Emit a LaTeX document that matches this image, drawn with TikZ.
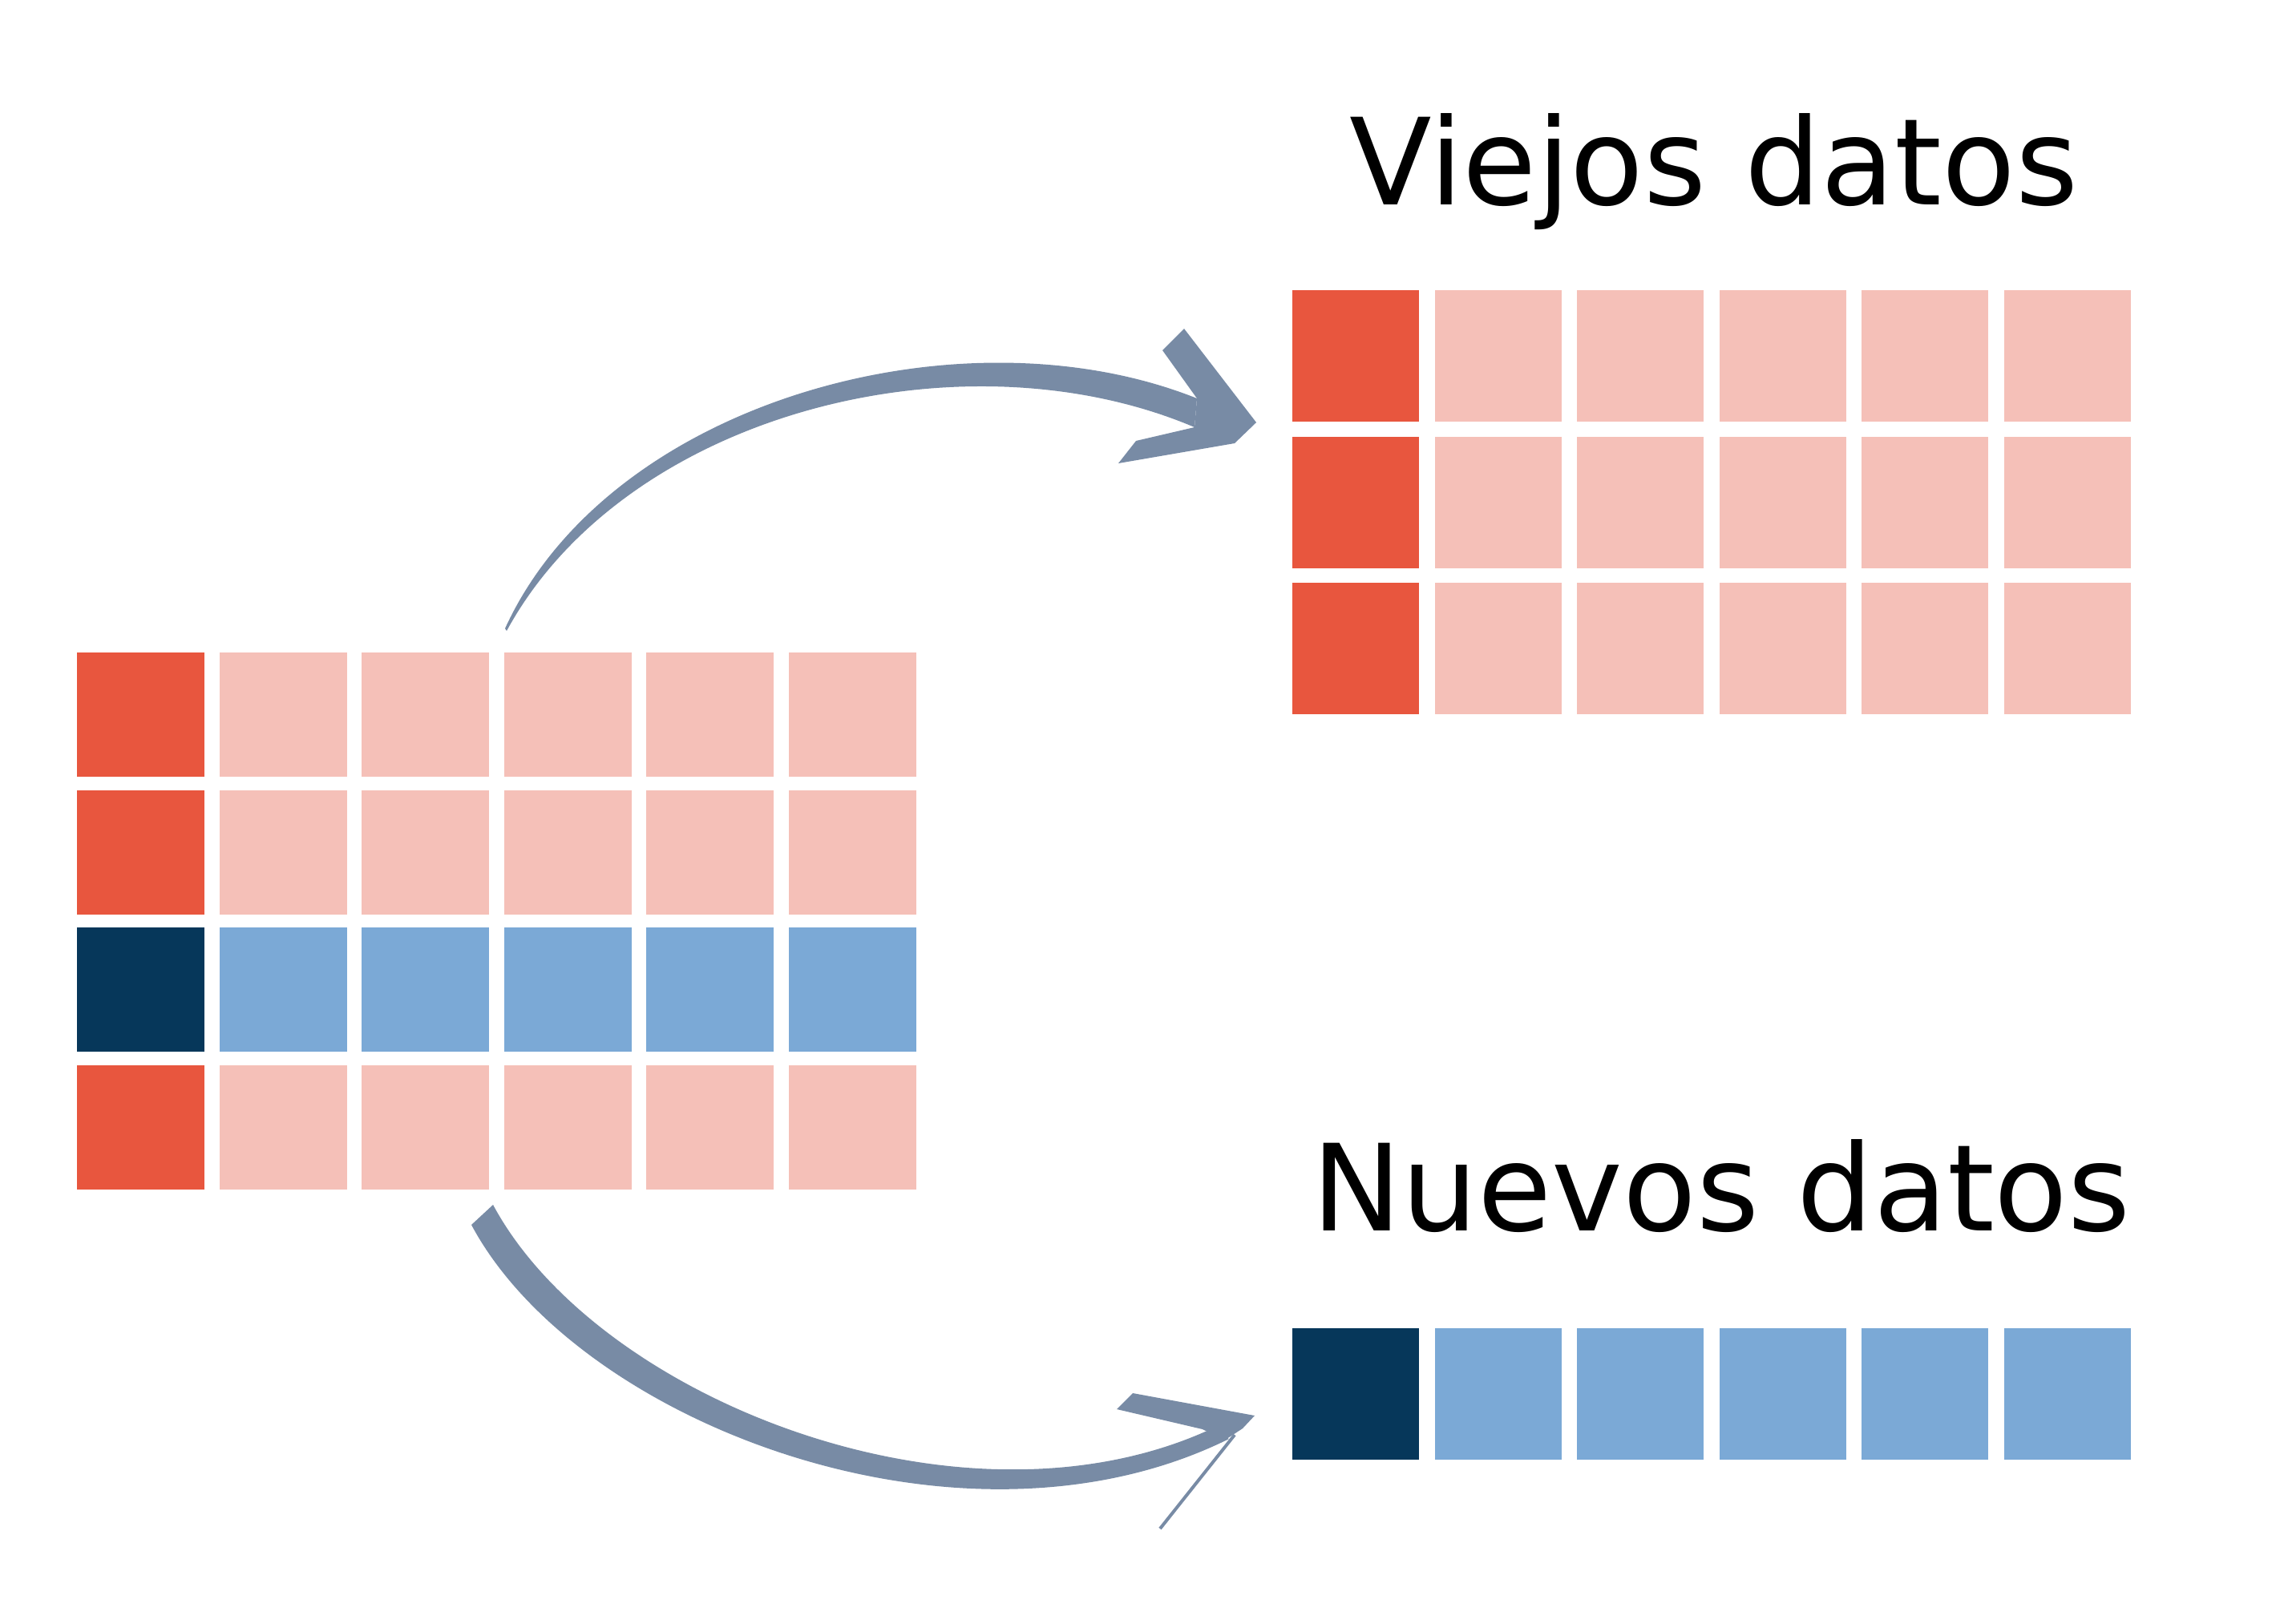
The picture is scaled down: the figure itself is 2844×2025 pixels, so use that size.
\documentclass[tikz,border=0pt]{standalone}
\usepackage{fontspec}
\setmainfont{DejaVu Sans}

\tikzset{every picture/.style={line width=0.75pt}}
\tikzset{
  keycell/.style={fill={rgb, 255:red, 232; green, 86; blue, 62 }},
  oldcell/.style={fill={rgb, 255:red, 245; green, 192; blue, 184 }},
  newkey/.style={fill={rgb, 255:red, 6; green, 55; blue, 90 }},
  newcell/.style={fill={rgb, 255:red, 123; green, 169; blue, 214 }},
  arrowfill/.style={fill={rgb, 255:red, 120; green, 139; blue, 165 }},
  arrowline/.style={draw={rgb, 255:red, 120; green, 139; blue, 165 }, line width=1pt},
  titletext/.style={font=\fontsize{37.5}{45}\selectfont, anchor=base, inner sep=0pt}
}

\begin{document}
\begin{tikzpicture}[x=0.25pt,y=0.25pt,yscale=-1,xscale=1]
	\useasboundingbox (0,0) rectangle (2844,2025);

	%Shape: Grid [id:left table, old rows]
	\foreach \r in {0,1,3} {
		\fill[keycell] (96,814+171.5*\r) rectangle +(159,155);
		\foreach \c in {1,...,5}
			\fill[oldcell] (96+177.6*\c,814+171.5*\r) rectangle +(159,155);
	}
	%Shape: Grid [id:left table, new row]
	\fill[newkey] (96,1157) rectangle +(159,155);
	\foreach \c in {1,...,5}
		\fill[newcell] (96+177.6*\c,1157) rectangle +(159,155);

	%Shape: Grid [id:old data]
	\foreach \r in {0,1,2} {
		\fill[keycell] (1612,362+182.5*\r) rectangle +(158,164);
		\foreach \c in {1,...,5}
			\fill[oldcell] (1612+177.6*\c,362+182.5*\r) rectangle +(158,164);
	}
	%Shape: Grid [id:new data]
	\fill[newkey] (1612,1657) rectangle +(158,164);
	\foreach \c in {1,...,5}
		\fill[newcell] (1612+177.6*\c,1657) rectangle +(158,164);

	%Curve Lines [id:upper arrow]
	\fill[arrowfill] (630,784) .. controls (760,500) and (1200,380) .. (1493,497) -- (1490,533) .. controls (1200,410) and (780,515) .. (632,787) -- cycle;
	\fill[arrowfill] (1477,410) -- (1567,527) -- (1540,553) -- (1395,578) -- (1417,550) -- (1490,533) -- (1493,497) -- (1450,437) -- cycle;

	%Curve Lines [id:lower arrow]
	\fill[arrowfill] (588,1528) .. controls (720,1775) and (1200,1960) .. (1533,1795) -- (1510,1783) .. controls (1200,1925) and (745,1745) .. (615,1503) -- cycle;
	\fill[arrowfill] (1413,1738) -- (1565,1766) -- (1550,1782) -- (1527,1797) -- (1500,1783) -- (1393,1758) -- cycle;
	\draw[arrowline] (1540,1790) -- (1447,1907);

	% Text Node
	\node[titletext] (viejos) at (2138,255) {Viejos datos};
	% Text Node
	\node[titletext] (nuevos) at (2147,1535) {Nuevos datos};

\end{tikzpicture}
\end{document}
